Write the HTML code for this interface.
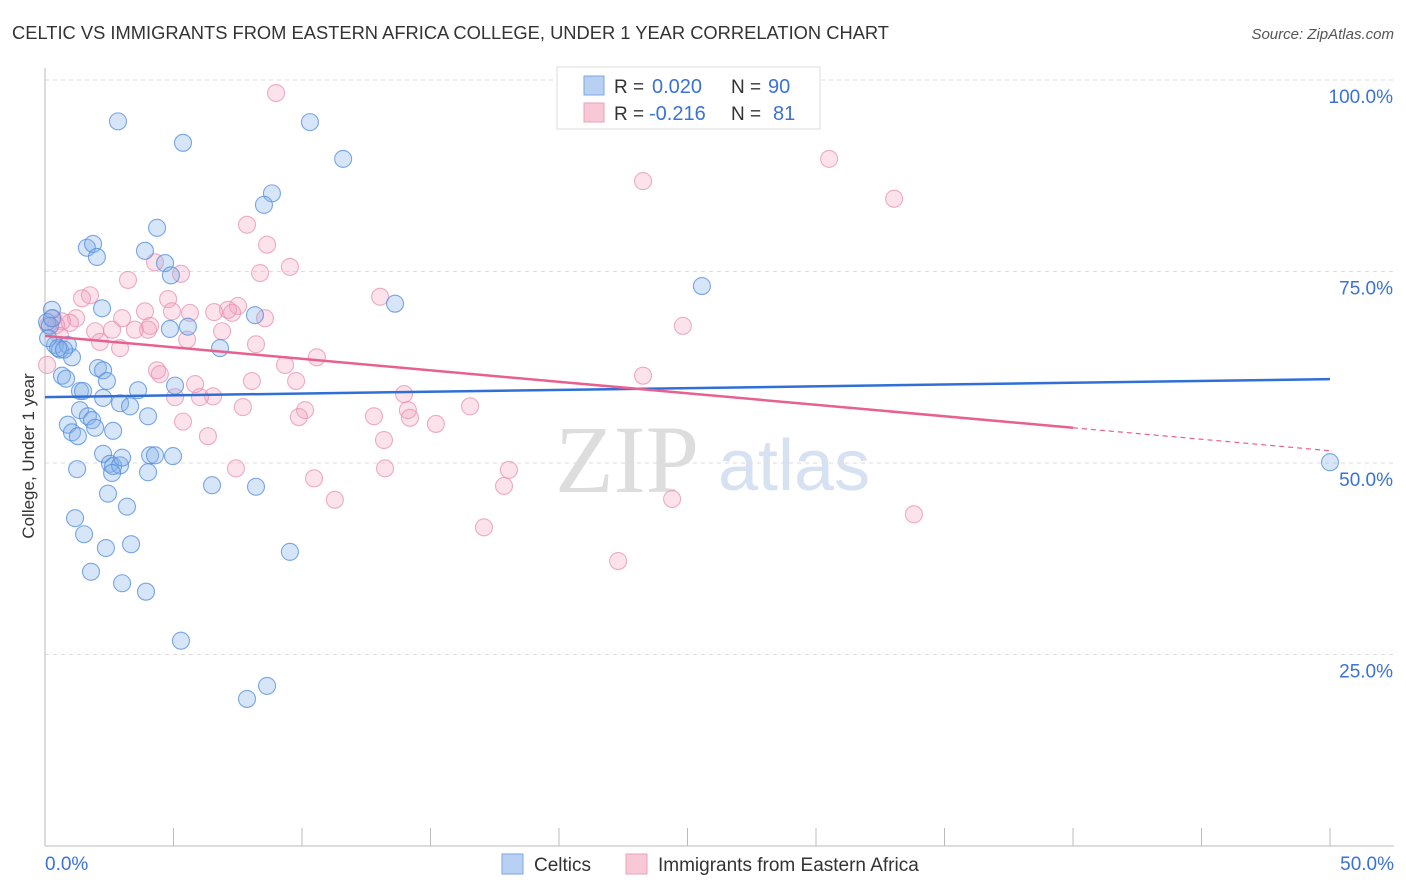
<!DOCTYPE html>
<html><head><meta charset="utf-8">
<style>
body{margin:0;background:#fff;font-family:"Liberation Sans",sans-serif;}
#wrap{position:relative;width:1406px;height:892px;overflow:hidden;}
</style></head>
<body>
<div id="wrap">
<svg id="chart" width="1406" height="892" xmlns="http://www.w3.org/2000/svg">
<text x="12" y="39" font-size="18" fill="#333" textLength="877" lengthAdjust="spacingAndGlyphs">CELTIC VS IMMIGRANTS FROM EASTERN AFRICA COLLEGE, UNDER 1 YEAR CORRELATION CHART</text>
<text x="1394" y="39" font-size="15" fill="#555" font-style="italic" text-anchor="end">Source: ZipAtlas.com</text>
<text x="34" y="456" font-size="17" fill="#333" text-anchor="middle" transform="rotate(-90 34 456)">College, Under 1 year</text>
<text x="555" y="492" font-size="96" fill="#ddd" font-family="Liberation Serif,serif">ZIP</text>
<text x="718" y="490" font-size="72" fill="#d6e2f2">atlas</text>
<g id="grid"></g><g id="axes"></g><g id="pts"></g><g id="lines"></g>
<g>
<rect x="557" y="67" width="263" height="62" fill="#fff" stroke="#ddd"/>
<rect x="584" y="76" width="20" height="19" fill="#b8d1f3" stroke="#7ea7e0"/>
<rect x="584" y="103" width="20" height="19" fill="#f8c8d6" stroke="#eba0b8"/>
<text x="614" y="93" font-size="19" fill="#333">R =</text>
<text x="652" y="93" font-size="20" fill="#3a72d8">0.020</text>
<text x="731" y="93" font-size="19" fill="#333">N =</text>
<text x="768" y="93" font-size="20" fill="#3a72d8">90</text>
<text x="614" y="120" font-size="19" fill="#333">R =</text>
<text x="649" y="120" font-size="20" fill="#3a72d8">-0.216</text>
<text x="731" y="120" font-size="19" fill="#333">N =</text>
<text x="773" y="120" font-size="20" fill="#3a72d8">81</text>
</g>
<g>
<rect x="502" y="854" width="21" height="20" fill="#b8d1f3" stroke="#7ea7e0"/>
<text x="534" y="871" font-size="19" fill="#333">Celtics</text>
<rect x="626" y="854" width="21" height="20" fill="#f8c8d6" stroke="#eba0b8"/>
<text x="658" y="871" font-size="19" fill="#333">Immigrants from Eastern Africa</text>
</g>
</svg>
</div>
<script>
const blueX=[2.84,5.37,10.31,11.6,8.83,8.52,4.36,1.63,1.87,2.02,3.89,4.67,4.9,13.62,25.56,8.17,0.27,0.08,0.19,2.22,4.86,5.56,6.81,0.39,0.58,0.89,1.05,2.06,2.26,0.66,0.82,2.41,1.36,1.48,3.62,5.06,2.26,2.92,3.31,4.01,1.36,1.67,1.83,0.89,1.05,1.28,1.95,2.65,2.26,2.53,2.65,2.92,3.0,2.61,4.09,4.28,4.98,4.01,6.5,8.21,1.25,2.45,3.19,1.17,1.52,2.37,3.35,9.53,1.79,3.0,3.93,5.29,8.64,7.86,50.0,0.12,0.27,0.51,0.74];
const blueY=[94.6,91.8,94.5,89.7,85.2,83.7,80.7,78.1,78.6,76.9,77.7,76.1,74.5,70.8,73.1,69.3,70.0,68.4,67.9,70.2,67.5,67.8,65.0,65.4,64.8,65.4,63.8,62.4,62.1,61.4,61.0,60.7,59.4,59.4,59.5,60.1,58.5,57.8,57.4,56.1,56.9,56.1,55.6,55.0,54.0,53.5,54.6,54.2,51.2,49.9,49.6,49.7,50.7,48.7,51.0,51.0,50.9,48.8,47.1,46.9,49.2,46.0,44.3,42.8,40.7,38.9,39.4,38.4,35.8,34.3,33.2,26.8,20.9,19.2,50.1,66.3,68.9,65.0,64.8];
const pinkX=[8.99,30.51,23.27,33.04,7.86,8.64,4.28,5.29,9.53,8.37,3.23,13.04,1.75,1.44,4.79,7.51,7.12,7.28,5.64,3.89,8.56,6.58,4.94,3.0,1.21,0.97,0.66,0.43,1.95,2.61,3.5,4.01,4.09,6.89,5.53,8.21,2.14,2.92,10.58,9.34,24.82,4.36,4.47,5.84,8.05,9.77,23.27,5.06,6.54,6.03,13.97,16.54,14.12,14.2,12.8,15.21,10.12,9.88,5.37,7.7,6.34,13.19,7.43,13.23,10.47,18.05,17.86,11.28,24.4,33.81,17.08,22.3,0.31,0.12,0.58,0.08];
const pinkY=[98.3,89.7,86.8,84.5,81.1,78.5,76.2,74.7,75.6,74.8,73.9,71.7,71.9,71.5,71.4,70.5,70.0,69.6,69.6,69.8,68.9,69.7,69.8,68.9,68.9,68.3,68.5,68.0,67.2,67.4,67.4,67.4,67.9,67.2,66.1,65.5,65.8,65.0,63.8,62.8,67.9,62.1,61.6,60.3,60.7,60.7,61.4,58.6,58.7,58.6,59.0,57.4,56.9,55.9,56.1,55.1,56.9,56.0,55.4,57.3,53.5,53.0,49.3,49.3,48.0,49.1,47.0,45.2,45.3,43.3,41.6,37.2,68.9,68.0,66.6,62.8];
const yTicks=[25,50,75,100];
const yTickLabels=["25.0%","50.0%","75.0%","100.0%"];
const blueTrend=[58.6,0.047];
const pinkTrend=[66.6,-0.3];
const NS="http://www.w3.org/2000/svg";
const sx=v=>45+v*25.7, sy=v=>846-v*7.66;
function mk(t,a,p){const e=document.createElementNS(NS,t);for(const k in a)e.setAttribute(k,a[k]);p.appendChild(e);return e;}
const grid=document.getElementById('grid'),axes=document.getElementById('axes'),pts=document.getElementById('pts'),lines=document.getElementById('lines');
yTicks.forEach((t,i)=>{
 const l=mk('line',{x1:45,x2:1394,y1:sy(t),y2:sy(t),stroke:'#ddd','stroke-dasharray':'4,4'},grid);
 
 
 const tx=mk('text',{x:1393,y:sy(t)+23,'font-size':19,fill:'#3a72d8','text-anchor':'end'},axes);
 tx.textContent=yTickLabels[i];
 
 
});
const ax=mk('line',{x1:45,x2:45,y1:68,y2:846,stroke:'#bbb'},axes);


const bx=mk('line',{x1:45,x2:1394,y1:846,y2:846,stroke:'#bbb'},axes);


for(let i=0;i<=10;i++){const t=mk('line',{x1:45+i*128.5,x2:45+i*128.5,y1:828,y2:846,stroke:'#bbb'},axes);
 
 }
[["0.0%",45,'start'],["50.0%",1394,'end']].forEach(d=>{const t=mk('text',{x:d[1],y:870,'font-size':19,fill:'#3a72d8','text-anchor':d[2]},axes);t.textContent=d[0];
 
 });
function dots(X,Y,fill,stroke,name){X.forEach((x,i)=>{const c=mk('circle',{cx:sx(x),cy:sy(Y[i]),r:8.5,fill:fill,stroke:stroke,'stroke-width':1.1},pts);
 
 });}
dots(pinkX,pinkY,'rgba(242,160,188,0.3)','rgba(232,140,172,0.7)','immigrants-point');
dots(blueX,blueY,'rgba(130,175,235,0.33)','rgba(80,140,220,0.75)','celtics-point');
const bl=mk('line',{x1:sx(0),y1:sy(blueTrend[0]),x2:sx(50),y2:sy(blueTrend[0]+blueTrend[1]*50),stroke:'#2f6fd6','stroke-width':2.5},lines);


const pl=mk('line',{x1:sx(0),y1:sy(pinkTrend[0]),x2:sx(40),y2:sy(pinkTrend[0]+pinkTrend[1]*40),stroke:'#e8608f','stroke-width':2.5},lines);


const pd=mk('line',{x1:sx(40),y1:sy(pinkTrend[0]+pinkTrend[1]*40),x2:sx(50),y2:sy(pinkTrend[0]+pinkTrend[1]*50),stroke:'#e8608f','stroke-width':1.2,'stroke-dasharray':'5,4'},lines);


</script>
</body></html>
